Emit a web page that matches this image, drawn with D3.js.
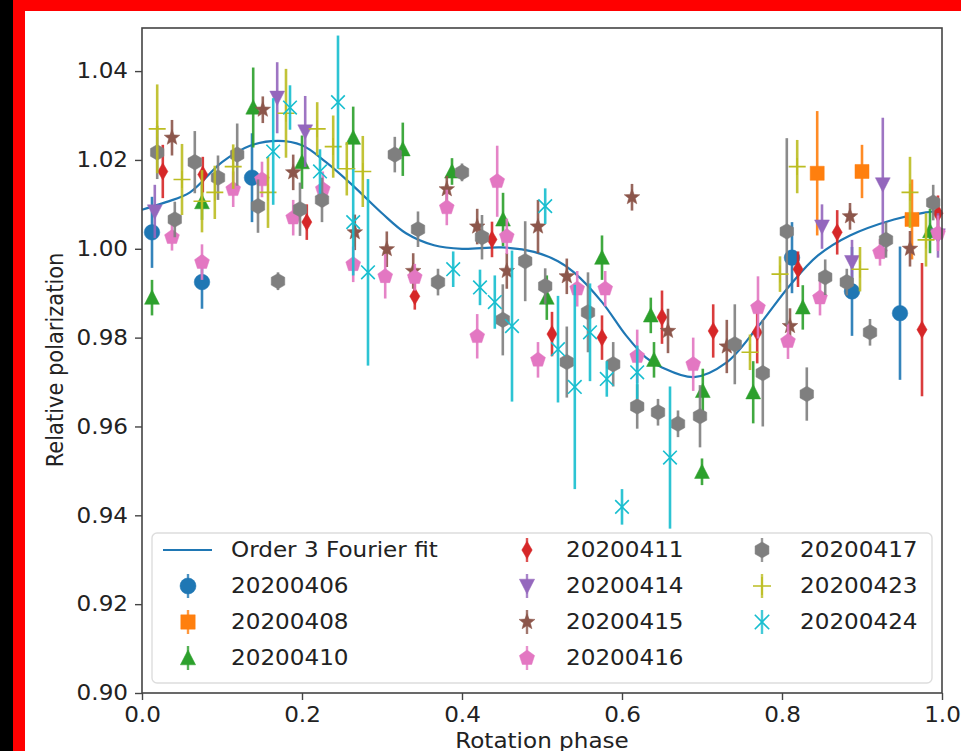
<!DOCTYPE html>
<html>
<head>
<meta charset="utf-8">
<script src="https://cdn.jsdelivr.net/npm/d3@7"></script>
<style>
  body { margin: 0; background: #fff; }
  svg { display: block; }
  text { font-family: "DejaVu Sans", sans-serif; fill: #222; }
</style>
</head>
<body>
<div id="wrapper"></div>
<script>
// data: [phase, relative polarization, error]
const seriesNames = ["20200406", "20200408", "20200410", "20200411", "20200414",
  "20200415", "20200416", "20200417", "20200423", "20200424"];
const seriesColors = ["#1f77b4", "#ff7f0e", "#2ca02c", "#d62728", "#9467bd",
  "#8c564b", "#e377c2", "#7f7f7f", "#bcbd22", "#17becf"];
const seriesMarkers = ["circle", "square", "triUp", "diamond", "triDown",
  "star", "pentagon", "hexagon", "plus", "cross"];

const d20200406 = [[0.0125,1.0037,0.008],[0.075,0.9925,0.006],[0.1375,1.016,0.010],[0.8125,0.998,0.008],
  [0.8875,0.9904,0.010],[0.9475,0.9855,0.015]];
const d20200408 = [[0.844,1.017,0.014],[0.9,1.0174,0.006],[0.9625,1.0066,0.009]];
const d20200410 = [[0.0125,0.989,0.004],[0.075,1.0105,0.004],[0.139,1.0318,0.009],[0.2,1.0195,0.006],
  [0.264,1.025,0.007],[0.326,1.0224,0.006],[0.3875,1.0174,0.003],[0.4513,1.0066,0.006],[0.506,0.989,0.005],
  [0.575,0.998,0.005],[0.636,0.985,0.004],[0.64,0.975,0.004],[0.701,0.968,0.005],[0.70,0.9498,0.003],
  [0.764,0.9677,0.007],[0.826,0.9868,0.005],[0.985,1.004,0.005]];
const d20200411 = [[0.026,1.0174,0.006],[0.076,1.0167,0.004],[0.206,1.006,0.004],[0.341,0.9893,0.003],
  [0.4375,1.0021,0.004],[0.5125,0.9808,0.005],[0.575,0.980,0.005],[0.65,0.9846,0.006],[0.714,0.9815,0.006],
  [0.769,0.9812,0.007],[0.82,0.9954,0.004],[0.869,1.0037,0.005],[0.975,0.9818,0.015],[0.995,1.008,0.004]];
const d20200414 = [[0.016,1.0084,0.006],[0.169,1.034,0.008],[0.204,1.0264,0.008],[0.85,1.005,0.005],
  [0.8875,0.997,0.005],[0.926,1.0145,0.015],[0.995,1.003,0.005]];
const d20200415 = [[0.0375,1.025,0.004],[0.151,1.0313,0.003],[0.189,1.0172,0.004],[0.266,1.0037,0.004],
  [0.306,0.9999,0.004],[0.339,0.995,0.004],[0.381,1.0134,0.003],[0.419,1.005,0.004],[0.456,0.995,0.004],
  [0.495,1.005,0.006],[0.531,0.9938,0.004],[0.6125,1.0116,0.003],[0.6575,0.9815,0.005],[0.731,0.978,0.006],
  [0.81,0.9826,0.004],[0.885,1.0073,0.003],[0.96,1.0,0.004]];
const d20200416 = [[0.0375,1.0026,0.003],[0.075,0.997,0.004],[0.114,1.0134,0.004],[0.15,1.0156,0.004],
  [0.189,1.007,0.004],[0.226,1.0134,0.004],[0.264,0.9965,0.004],[0.304,0.9938,0.005],[0.341,0.9936,0.003],
  [0.381,1.0093,0.004],[0.419,0.9803,0.005],[0.444,1.0152,0.008],[0.456,1.0028,0.004],[0.495,0.975,0.004],
  [0.544,0.991,0.004],[0.579,0.991,0.004],[0.619,0.9758,0.006],[0.689,0.974,0.006],[0.77,0.9868,0.007],
  [0.8075,0.9792,0.004],[0.8475,0.989,0.004],[0.9225,0.9992,0.003],[0.995,1.0035,0.004]];
const d20200417 = [[0.019,1.0217,0.006],[0.041,1.0066,0.004],[0.066,1.0195,0.007],[0.095,1.016,0.005],
  [0.119,1.0212,0.007],[0.145,1.0096,0.006],[0.17,0.9927,0.002],[0.1975,1.0089,0.006],[0.225,1.011,0.005],
  [0.316,1.0212,0.004],[0.345,1.0044,0.004],[0.37,0.9925,0.003],[0.40,1.0172,0.002],[0.425,1.0026,0.005],
  [0.451,0.984,0.008],[0.479,0.9972,0.009],[0.504,0.9916,0.004],[0.531,0.9745,0.008],[0.5575,0.9857,0.009],
  [0.589,0.974,0.005],[0.619,0.9645,0.005],[0.645,0.9632,0.003],[0.67,0.9606,0.003],[0.6975,0.9623,0.007],
  [0.741,0.9785,0.009],[0.776,0.972,0.012],[0.806,1.0039,0.021],[0.831,0.9673,0.006],[0.854,0.9936,0.004],
  [0.881,0.9925,0.003],[0.91,0.9812,0.003],[0.93,1.002,0.004],[0.989,1.0104,0.004]];
const d20200423 = [[0.019,1.027,0.010],[0.05,1.0156,0.008],[0.075,1.0107,0.007],[0.091,1.0127,0.006],
  [0.114,1.0185,0.005],[0.1575,1.0127,0.008],[0.18,1.0305,0.010],[0.219,1.027,0.006],[0.239,1.023,0.007],
  [0.256,1.018,0.006],[0.276,1.0174,0.008],[0.76,0.9767,0.004],[0.7975,0.9943,0.004],[0.819,1.0185,0.006],
  [0.8975,0.9954,0.005],[0.96,1.0127,0.008],[0.98,1.002,0.006]];
const d20200424 = [[0.164,1.0219,0.012],[0.185,1.0318,0.005],[0.2225,1.0174,0.005],[0.245,1.033,0.015],
  [0.264,1.006,0.012],[0.2825,0.9947,0.021],[0.389,0.9954,0.004],[0.4225,0.9913,0.004],[0.441,0.988,0.006],
  [0.4625,0.9826,0.017],[0.504,1.0096,0.004],[0.52,0.9774,0.012],[0.541,0.9689,0.023],[0.56,0.9812,0.011],
  [0.581,0.9707,0.004],[0.6,0.9419,0.004],[0.619,0.9722,0.006],[0.66,0.953,0.016]];

const seriesData = [d20200406, d20200408, d20200410, d20200411, d20200414,
  d20200415, d20200416, d20200417, d20200423, d20200424];

// fit curve
const fitPhase = [0, 0.03, 0.06, 0.10, 0.135, 0.17, 0.20, 0.23, 0.265, 0.30, 0.33, 0.365, 0.40, 0.45,
  0.49, 0.52, 0.54, 0.575, 0.605, 0.63, 0.65, 0.69, 0.73, 0.77, 0.81, 0.845, 0.885, 0.94, 0.98, 1.0];
const fitValue = [1.0088, 1.0105, 1.0127, 1.0195, 1.0232, 1.0243, 1.0233, 1.0195, 1.014, 1.008, 1.0035,
  1.0008, 1.0, 1.0003, 0.9993, 0.9972, 0.9947, 0.988, 0.9805, 0.9755, 0.9733, 0.9711, 0.9743, 0.9825,
  0.9918, 0.9985, 1.003, 1.0066, 1.0082, 1.0085];

const xTicks = [0, 0.2, 0.4, 0.6, 0.8, 1.0];
const yTicks = [0.90, 0.92, 0.94, 0.96, 0.98, 1.00, 1.02, 1.04];

const width = 961, height = 751;
const plot = { left: 142, right: 942, top: 28, bottom: 693 };
const stretch = 1.1;
const fontSize = 21;

const svg = d3.select("#wrapper").append("svg")
  .attr("width", width).attr("height", height);

// frame around the picture
svg.append("rect").attr("width", width).attr("height", height).attr("fill", "#fff");
svg.append("rect").attr("x", 0).attr("y", 0).attr("width", 13).attr("height", height).attr("fill", "#000");
svg.append("rect").attr("x", 13).attr("y", 0).attr("width", 12).attr("height", height).attr("fill", "#f00");
svg.append("rect").attr("x", 13).attr("y", 0).attr("width", width - 13).attr("height", 11).attr("fill", "#f00");

const xScale = d3.scaleLinear().domain([0, 1]).range([plot.left, plot.right]);
const yScale = d3.scaleLinear().domain([0.90, 1.0497]).range([plot.bottom, plot.top]);

// marker shapes, r = half size in px
function markerPath(kind, r) {
  const poly = pts => "M" + pts.map(p => p.join(",")).join("L") + "Z";
  const ngon = (n, rr, rot) => d3.range(n).map(i => {
    const a = rot + i * 2 * Math.PI / n;
    return [rr * Math.sin(a), -rr * Math.cos(a)];
  });
  switch (kind) {
    case "circle": return d3.symbol(d3.symbolCircle, Math.PI * r * r)();
    case "square": { const s = r * 0.9; return poly([[-s,-s],[s,-s],[s,s],[-s,s]]); }
    case "triUp": return poly([[0,-r],[r*0.95,r*0.85],[-r*0.95,r*0.85]]);
    case "triDown": return poly([[0,r],[r*0.95,-r*0.85],[-r*0.95,-r*0.85]]);
    case "diamond": return poly([[0,-r*1.1],[r*0.65,0],[0,r*1.1],[-r*0.65,0]]);
    case "star": {
      const pts = [];
      for (let i = 0; i < 10; i++) {
        const rr = i % 2 ? r * 0.45 : r * 1.05, a = i * Math.PI / 5;
        pts.push([rr * Math.sin(a), -rr * Math.cos(a)]);
      }
      return poly(pts);
    }
    case "pentagon": return poly(ngon(5, r, 0));
    case "hexagon": return poly(ngon(6, r, 0));
    case "plus": return `M${-r},0L${r},0M0,${-r}L0,${r}`;
    case "cross": { const s = r * 0.8; return `M${-s},${-s}L${s},${s}M${-s},${s}L${s},${-s}`; }
  }
}
const lineMarkers = ["plus", "cross"];

function stretchedText(sel, x, y, str) {
  return sel.append("text")
    .attr("transform", `translate(${x},${y}) scale(${stretch},1)`)
    .text(str);
}

// fit curve
const fitPoints = fitPhase.map((p, i) => [p, fitValue[i]]);
const fitLine = d3.line()
  .x(d => xScale(d[0]))
  .y(d => yScale(d[1]))
  .curve(d3.curveCatmullRom.alpha(0.5));

const plotArea = svg.append("g");
plotArea.append("path")
  .attr("d", fitLine(fitPoints))
  .attr("fill", "none")
  .attr("stroke", "#1f77b4")
  .attr("stroke-width", 2.2);

// error bars and markers
seriesData.forEach((data, si) => {
  const color = seriesColors[si], kind = seriesMarkers[si];
  const g = plotArea.append("g");
  g.selectAll("line.err").data(data).join("line")
    .attr("class", "err")
    .attr("x1", d => xScale(d[0])).attr("x2", d => xScale(d[0]))
    .attr("y1", d => yScale(d[1] - d[2])).attr("y2", d => yScale(d[1] + d[2]))
    .attr("stroke", color).attr("stroke-width", 2.6).attr("opacity", 0.9);
  const isLine = lineMarkers.includes(kind);
  g.selectAll("path.mk").data(data).join("path")
    .attr("class", "mk")
    .attr("transform", d => `translate(${xScale(d[0])},${yScale(d[1])})`)
    .attr("d", markerPath(kind, isLine ? 8.5 : 7.8))
    .attr("fill", isLine ? "none" : color)
    .attr("stroke", color)
    .attr("stroke-width", isLine ? 1.6 : 0.5);
});

// axes
const xAxis = svg.append("g")
  .attr("transform", `translate(0,${plot.bottom})`)
  .call(d3.axisBottom(xScale).tickValues(xTicks).tickFormat(d3.format(".1f")).tickSize(7).tickPadding(7));
const yAxis = svg.append("g")
  .attr("transform", `translate(${plot.left},0)`)
  .call(d3.axisLeft(yScale).tickValues(yTicks).tickFormat(d3.format(".2f")).tickSize(7).tickPadding(9));

[xAxis, yAxis].forEach(ax => {
  ax.select(".domain").remove();
  ax.selectAll(".tick line").attr("stroke", "#444").attr("stroke-width", 1.4);
  ax.selectAll(".tick text")
    .attr("font-size", fontSize).attr("fill", "#222")
    .attr("font-family", "DejaVu Sans, sans-serif");
});
yAxis.selectAll(".tick text").attr("transform", `scale(${stretch},1)`).attr("x", -14 / stretch);
xAxis.selectAll(".tick text").attr("transform", `scale(${stretch},1)`);

svg.append("rect")
  .attr("x", plot.left).attr("y", plot.top)
  .attr("width", plot.right - plot.left).attr("height", plot.bottom - plot.top)
  .attr("fill", "none").attr("stroke", "#444").attr("stroke-width", 1.6);

// axis labels
stretchedText(svg, 542, 748, "Rotation phase")
  .attr("font-size", fontSize).attr("text-anchor", "middle");
svg.append("text")
  .attr("transform", `translate(63,360) rotate(-90) scale(1,${stretch})`)
  .attr("font-size", fontSize).attr("text-anchor", "middle")
  .text("Relative polarization");

// legend
const legend = svg.append("g");
legend.append("rect")
  .attr("x", 152).attr("y", 533).attr("width", 780).attr("height", 150)
  .attr("rx", 5)
  .attr("fill", "#fff").attr("fill-opacity", 0.85)
  .attr("stroke", "#ddd").attr("stroke-width", 1.4);

const rowY = [550, 586, 622, 658];
const colHandleX = [188, 527, 762];
const colTextX = [231, 566, 800];

legend.append("line")
  .attr("x1", 163).attr("x2", 212).attr("y1", rowY[0]).attr("y2", rowY[0])
  .attr("stroke", "#1f77b4").attr("stroke-width", 2.2);
stretchedText(legend, colTextX[0], rowY[0] + 7, "Order 3 Fourier fit").attr("font-size", fontSize);

seriesNames.forEach((name, i) => {
  const slot = i + 1;
  const col = Math.floor(slot / 4), row = slot % 4;
  const hx = colHandleX[col], hy = rowY[row];
  const color = seriesColors[i], kind = seriesMarkers[i];
  const isLine = lineMarkers.includes(kind);
  legend.append("line")
    .attr("x1", hx).attr("x2", hx).attr("y1", hy - 12).attr("y2", hy + 12)
    .attr("stroke", color).attr("stroke-width", 2.4).attr("opacity", 0.8);
  legend.append("path")
    .attr("transform", `translate(${hx},${hy})`)
    .attr("d", markerPath(kind, isLine ? 9 : 8))
    .attr("fill", isLine ? "none" : color)
    .attr("stroke", color).attr("stroke-width", isLine ? 1.6 : 0.5);
  stretchedText(legend, colTextX[col], hy + 7, name).attr("font-size", fontSize);
});
</script>
</body>
</html>
